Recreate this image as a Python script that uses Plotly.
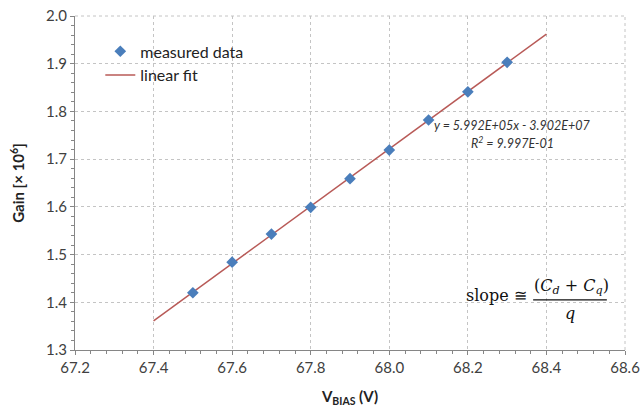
import plotly.graph_objects as go

# Data
v_bias = [67.5, 67.6, 67.7, 67.8, 67.9, 68.0, 68.1, 68.2, 68.3]
gain = [1.420, 1.484, 1.543, 1.599, 1.659, 1.719, 1.782, 1.841, 1.903]
fit_x = [67.4, 68.4]
fit_y = [1.361, 1.962]

x_ticks = [67.2, 67.4, 67.6, 67.8, 68.0, 68.2, 68.4, 68.6]
x_tick_labels = ["67.2", "67.4", "67.6", "67.8", "68.0", "68.2", "68.4", "68.6"]
y_ticks = [1.3, 1.4, 1.5, 1.6, 1.7, 1.8, 1.9, 2.0]
y_tick_labels = ["1.3", "1.4", "1.5", "1.6", "1.7", "1.8", "1.9", "2.0"]

FONT = "Lato, 'Open Sans', sans-serif"
SERIF = "'DejaVu Serif', 'Liberation Serif', serif"

fig = go.Figure()
fig.add_trace(go.Scatter(
    x=fit_x, y=fit_y, mode="lines", name="linear fit",
    line=dict(color="#b85a57", width=1.5), showlegend=False))
fig.add_trace(go.Scatter(
    x=v_bias, y=gain, mode="markers", name="measured data",
    marker=dict(symbol="diamond", size=9, color="#4a7ebb"), showlegend=False))

# Legend entries
fig.add_trace(go.Scatter(
    x=[None], y=[None], mode="markers", name="measured data",
    marker=dict(symbol="diamond", size=9, color="#4a7ebb")))
fig.add_trace(go.Scatter(
    x=[None], y=[None], mode="lines", name="linear fit",
    line=dict(color="#b85a57", width=1.5)))

grid = dict(showgrid=True, gridcolor="#c4c4c4", griddash="dot", gridwidth=1)

fig.update_layout(
    width=642, height=411,
    margin=dict(l=75, r=17, t=16, b=61),
    paper_bgcolor="white", plot_bgcolor="white",
    font=dict(family=FONT, size=15, color="#404040"),
    legend=dict(x=0.046, y=0.945, xanchor="left", yanchor="top",
                bgcolor="rgba(0,0,0,0)", font=dict(size=16, color="#222"),
                itemwidth=30, tracegroupgap=0),
    xaxis=dict(range=[67.2, 68.6], tickvals=x_ticks, ticktext=x_tick_labels,
               automargin=False,
               showline=True, linecolor="#868686", linewidth=1,
               ticks="outside", ticklen=4, tickcolor="#868686",
               minor=dict(dtick=0.04, ticks="outside", ticklen=3, tickcolor="#868686", showgrid=False),
               zeroline=False,
               title=dict(text="<b>V<sub>BIAS</sub> (V)</b>", font=dict(size=15, color="#222"), standoff=16),
               **grid),
    yaxis=dict(range=[1.3, 2.0], tickvals=y_ticks, ticktext=y_tick_labels,
               automargin=False,
               showline=True, linecolor="#868686", linewidth=1,
               ticks="outside", ticklen=4, tickcolor="#868686",
               minor=dict(dtick=0.02, ticks="outside", ticklen=3, tickcolor="#868686", showgrid=False),
               zeroline=False,
               title=dict(text="<b>Gain [× 10<sup>6</sup>]</b>", font=dict(size=15, color="#222"), standoff=17),
               **grid),
)

# Top and right border drawn in gridline style
fig.add_shape(type="line", xref="paper", yref="paper", x0=0, x1=1, y0=1, y1=1,
              line=dict(color="#c4c4c4", width=1, dash="dot"))
fig.add_shape(type="line", xref="paper", yref="paper", x0=1, x1=1, y0=0, y1=1,
              line=dict(color="#c4c4c4", width=1, dash="dot"))

# Fit equation
fig.add_annotation(xref="paper", yref="paper", x=0.795, y=0.671,
                   text="<i>y = 5.992E+05x - 3.902E+07</i>", showarrow=False,
                   font=dict(size=12.5, color="#333"), xanchor="center", yanchor="middle")
fig.add_annotation(xref="paper", yref="paper", x=0.795, y=0.62,
                   text="<i>R<sup>2</sup> = 9.997E-01</i>", showarrow=False,
                   font=dict(size=12.5, color="#333"), xanchor="center", yanchor="middle")

# Slope formula
fig.add_annotation(xref="paper", yref="paper", x=0.825, y=0.162,
                   text="slope ≅", showarrow=False, xanchor="right", yanchor="middle",
                   font=dict(family=SERIF, size=16, color="#111"))
fig.add_annotation(xref="paper", yref="paper", x=0.903, y=0.19,
                   text="(<i>C<sub>d</sub></i> + <i>C<sub>q</sub></i>)", showarrow=False,
                   xanchor="center", yanchor="middle",
                   font=dict(family=SERIF, size=16, color="#111"))
fig.add_shape(type="line", xref="paper", yref="paper", x0=0.833, x1=0.967, y0=0.15, y1=0.15,
              line=dict(color="#111", width=1.2))
fig.add_annotation(xref="paper", yref="paper", x=0.9, y=0.11,
                   text="<i>q</i>", showarrow=False, xanchor="center", yanchor="middle",
                   font=dict(family=SERIF, size=16, color="#111"))

fig.write_html("out.html", config={"displayModeBar": False},
               post_script="document.body.style.margin='0px';")
